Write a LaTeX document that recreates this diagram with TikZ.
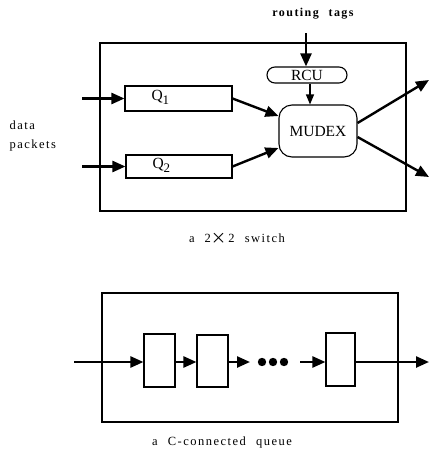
\documentclass[tikz,border=0pt]{standalone}
\usepackage{fontspec}
\setmainfont{Liberation Serif}
\usetikzlibrary{arrows.meta}
\newfontfamily\spaced[LetterSpace=12,WordSpace=2.2]{Liberation Serif}
\begin{document}
\begin{tikzpicture}[x=1pt,y=-1pt,
  box/.style={draw,line width=1.1pt,inner sep=0pt},
  heavy/.style={line width=2.4pt,-{Triangle[length=13pt,width=11pt]}},
  light/.style={line width=1.1pt,-{Triangle[length=10pt,width=8pt]}},
  lbl/.style={font=\fontsize{15.5}{16}\selectfont},
  captxt/.style={font=\spaced\fontsize{12.5}{19}\selectfont}]
\useasboundingbox (0,0) rectangle (430,451);

% ---- 2x2 switch ----
\node[box,minimum width=306pt,minimum height=168pt] (sw) at (253,127) {};
\node[box,minimum width=107pt,minimum height=25pt] (q1) at (178.5,98.5) {};
\node[lbl,anchor=west] (q1lbl) at (148,97) {Q\raisebox{-4pt}{\fontsize{13}{13}\selectfont 1}};
\node[box,minimum width=106pt,minimum height=23pt] (q2) at (179,166.5) {};
\node[lbl,anchor=west] (q2lbl) at (149,165) {Q\raisebox{-4pt}{\fontsize{13}{13}\selectfont 2}};
\node[box,rounded corners=8pt,minimum width=80pt,minimum height=16pt,lbl] (rcu) at (307,75) {RCU};
\node[box,rounded corners=13pt,minimum width=78pt,minimum height=52pt,lbl] (mudex) at (318,131) {MUDEX};

\node[font=\spaced\bfseries\fontsize{12}{13}\selectfont] (tags) at (313,14) {routing tags};
\node[captxt,align=left,anchor=west] (data) at (6,136) {data\\packets};
\node[captxt] (swcap) at (237,238) {a 2{\fontsize{16}{16}\selectfont\boldmath$\times$}\hspace{2pt}2 switch};

\coordinate (in1) at (82,98.5);
\coordinate (in2) at (82,166.5);
\coordinate (tagin) at (306,33);
\coordinate (out1) at (429,80);
\coordinate (out2) at (429,177);

\draw[heavy] (in1) -- (q1.west);
\draw[heavy] (in2) -- (q2.west);
\draw[heavy] (q1.east) -- ([yshift=15pt]mudex.west);
\draw[heavy] (q2.east) -- ([yshift=-17pt]mudex.west);
\draw[heavy] ([yshift=8pt]mudex.east) -- (out1);
\draw[heavy] ([yshift=-6pt]mudex.east) -- (out2);
\draw[heavy] (tagin) -- (tagin |- rcu.north);
\draw[light] (rcu.south -| 310,0) -- (mudex.north -| 310,0);

% ---- C-connected queue ----
\node[box,minimum width=296pt,minimum height=129pt] (qb) at (250,357.5) {};
\node[box,minimum width=31pt,minimum height=53pt] (b1) at (159.5,360.5) {};
\node[box,minimum width=31pt,minimum height=52pt] (b2) at (212.5,361) {};
\node[box,minimum width=29pt,minimum height=53pt] (b3) at (340.5,359.5) {};
\node[captxt] (qcap) at (222,442) {a C-connected queue};

\coordinate (qin) at (74,362);
\coordinate (dotsin) at (250,362);
\coordinate (dotsout) at (300,362);
\coordinate (qout) at (429,362);
\foreach \x in {262,273,284} \fill (\x,362) circle (4.2pt);

\draw[heavy] (qin) -- (b1.west |- qin);
\draw[heavy] (b1.east |- qin) -- (b2.west |- qin);
\draw[heavy] (b2.east |- qin) -- (dotsin);
\draw[heavy] (dotsout) -- (b3.west |- qin);
\draw[heavy] (b3.east |- qin) -- (qout);
\end{tikzpicture}
\end{document}
